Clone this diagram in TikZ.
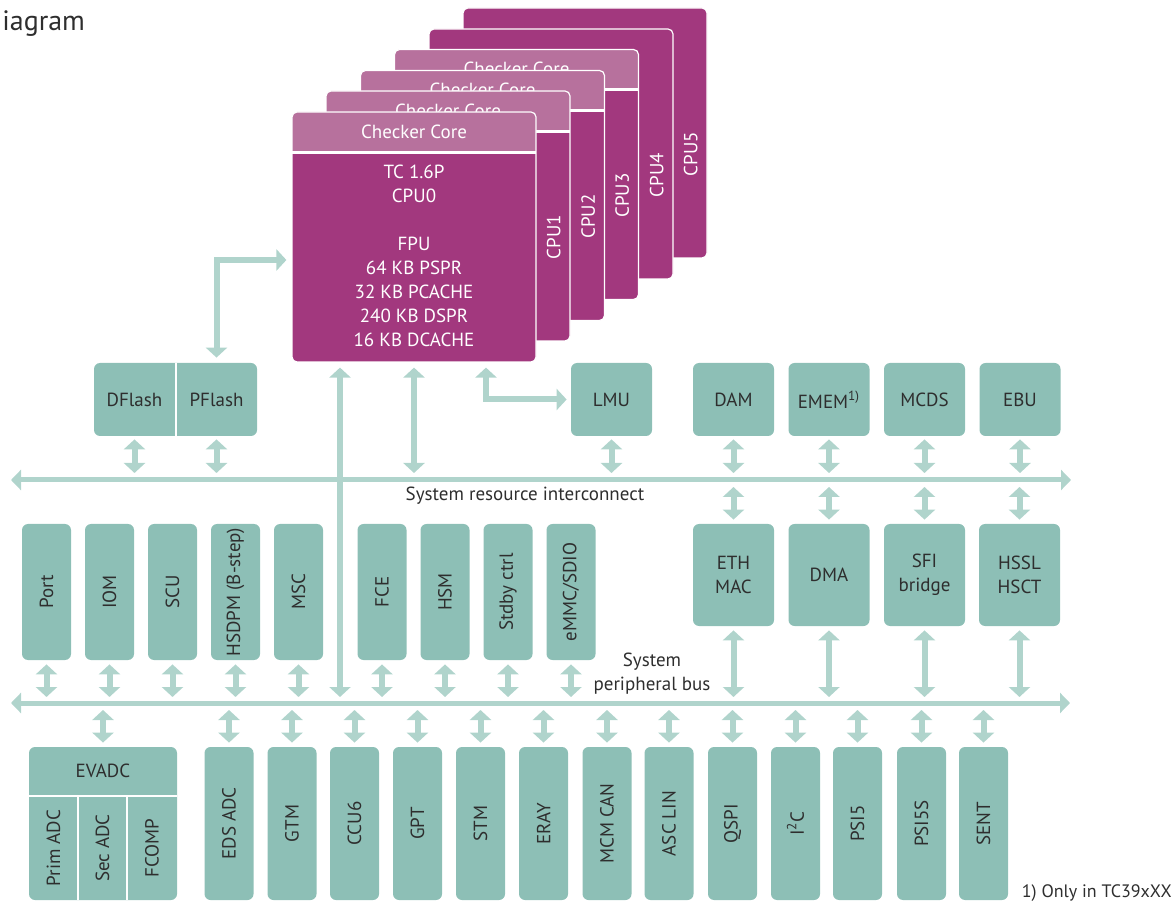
\documentclass[tikz,border=0pt]{standalone}
\usepackage{fontspec}
\setmainfont{PT Sans}
\usetikzlibrary{arrows.meta}

\definecolor{cpubody}{HTML}{A2387E}
\definecolor{cpuhead}{HTML}{B7719D}
\definecolor{boxgreen}{HTML}{8DBFB6}
\definecolor{busgreen}{HTML}{B0D4CC}
\definecolor{txtgray}{HTML}{2E2E2E}

\begin{document}
\begin{tikzpicture}[x=0.5pt,y=-0.5pt,
  lbl/.style={font=\fontsize{9.5}{12}\selectfont, text=txtgray, align=center, inner sep=0pt},
  wlbl/.style={lbl, text=white},
  gbox/.style={lbl, fill=boxgreen, rounded corners=3pt},
  topbox/.style={gbox, minimum width=40.5pt, minimum height=36.5pt},
  dmabox/.style={gbox, minimum width=40.5pt, minimum height=51pt},
  midbox/.style={gbox, minimum width=24.5pt, minimum height=68pt},
  lowbox/.style={gbox, minimum width=24.5pt, minimum height=76.5pt},
  cpu/.style={fill=cpubody, draw=white, line width=0.6pt, rounded corners=2.5pt,
    minimum width=122pt, minimum height=125pt, inner sep=0pt},
  cpuc/.style={cpu, path picture={
    \fill[cpuhead, sharp corners] (path picture bounding box.north west) rectangle ([yshift=-19.5pt]path picture bounding box.north east);
    \fill[white, sharp corners] ([yshift=-19.5pt]path picture bounding box.north west) rectangle ([yshift=-21pt]path picture bounding box.north east);}},
  bus/.style={draw=busgreen, line width=2.5pt, >={Triangle[width=10pt,length=5pt]}, <->},
  sarrow/.style={draw=busgreen, line width=3pt, >={Triangle[width=10.5pt,length=5pt]}, <->}]

\useasboundingbox (0,0) rectangle (1173,903);
\node[anchor=base west, font=\fontsize{14}{17}\selectfont, text=txtgray, inner sep=0pt] (title) at (2,31) {iagram};

\node[cpu] (cpu5) at (585,133) {};
\node[wlbl] (l5) at ([xshift=-8.5pt,yshift=-10.5pt]cpu5.east) {\rotatebox{90}{CPU5}};
\node[cpu] (cpu4) at (551,154) {};
\node[wlbl] (l4) at ([xshift=-8.5pt,yshift=-10.5pt]cpu4.east) {\rotatebox{90}{CPU4}};
\node[cpuc] (cpu3) at (516.5,174.5) {};
\node[wlbl] (chk3) at ([yshift=-10pt]cpu3.north) {Checker Core};
\node[wlbl] (l3) at ([xshift=-8.5pt,yshift=-10.5pt]cpu3.east) {\rotatebox{90}{CPU3}};
\node[cpuc] (cpu2) at (482.5,195.5) {};
\node[wlbl] (chk2) at ([yshift=-10pt]cpu2.north) {Checker Core};
\node[wlbl] (l2) at ([xshift=-8.5pt,yshift=-10.5pt]cpu2.east) {\rotatebox{90}{CPU2}};
\node[cpuc] (cpu1) at (448,216) {};
\node[wlbl] (chk1) at ([yshift=-10pt]cpu1.north) {Checker Core};
\node[wlbl] (l1) at ([xshift=-8.5pt,yshift=-10.5pt]cpu1.east) {\rotatebox{90}{CPU1}};
\node[cpuc] (cpu0) at (414,237) {};
\node[wlbl] (chk0) at ([yshift=-10pt]cpu0.north) {Checker Core};
\node[wlbl] (cpu0t) at (414,256) {TC 1.6P\\CPU0\\[12pt]FPU\\64 KB PSPR\\32 KB PCACHE\\240 KB DSPR\\16 KB DCACHE};

\node[topbox, minimum width=81.5pt] (flash) at (175.5,399.5) {};
\draw[white, line width=1pt] (flash.north) -- (flash.south);
\node[lbl] (dflash) at (134.5,399.5) {DFlash};
\node[lbl] (pflash) at (216.5,399.5) {PFlash};
\node[topbox] (lmu) at (611.5,399.5) {LMU};
\node[topbox] (dam) at (733.5,399.5) {DAM};
\node[topbox] (emem) at (829,399.5) {EMEM\textsuperscript{1)}};
\node[topbox] (mcds) at (924.5,399.5) {MCDS};
\node[topbox] (ebu) at (1020,399.5) {EBU};

\coordinate (sriw) at (11,480);
\coordinate (srie) at (1071,480);
\draw[bus] (sriw) -- (srie);
\node[lbl] (srilbl) at (525,496) {System resource interconnect};

\node[midbox] (port) at (46.5,592) {\rotatebox{90}{Port}};
\node[midbox] (iom) at (109.5,592) {\rotatebox{90}{IOM}};
\node[midbox] (scu) at (172.5,592) {\rotatebox{90}{SCU}};
\node[midbox] (hsdpm) at (235.5,592) {\rotatebox{90}{HSDPM (B-step)}};
\node[midbox] (msc) at (298.5,592) {\rotatebox{90}{MSC}};
\node[midbox] (fce) at (382,592) {\rotatebox{90}{FCE}};
\node[midbox] (hsm) at (445,592) {\rotatebox{90}{HSM}};
\node[midbox] (stdby) at (508,592) {\rotatebox{90}{Stdby ctrl}};
\node[midbox] (emmc) at (571,592) {\rotatebox{90}{eMMC/SDIO}};
\node[dmabox] (eth) at (733.5,575) {ETH\\MAC};
\node[dmabox] (dma) at (829,575) {DMA};
\node[dmabox] (sfi) at (924.5,575) {SFI\\bridge};
\node[dmabox] (hssl) at (1019.5,575) {HSSL\\HSCT};

\coordinate (spbw) at (11,703);
\coordinate (spbe) at (1070,703);
\draw[bus] (spbw) -- (spbe);
\node[lbl] (spblbl) at (652,674) {System\\peripheral bus};

\node[gbox, minimum width=74pt, minimum height=76.5pt] (evadc) at (103,823.5) {};
\coordinate (evs) at (103,796);
\coordinate (evd1) at (78,796);
\coordinate (evd2) at (127,796);
\draw[white, line width=1pt] (evadc.west |- evs) -- (evadc.east |- evs);
\draw[white, line width=1pt] (evd1) -- (evd1 |- evadc.south);
\draw[white, line width=1pt] (evd2) -- (evd2 |- evadc.south);
\node[lbl] (evadct) at (103,771) {EVADC};
\node[lbl] (prim) at (53.5,848) {\rotatebox{90}{Prim ADC}};
\node[lbl] (sec) at (102.5,848) {\rotatebox{90}{Sec ADC}};
\node[lbl] (fcomp) at (152,848) {\rotatebox{90}{FCOMP}};
\node[lowbox] (edsadc) at (229,823.5) {\rotatebox{90}{EDS ADC}};
\node[lowbox] (gtm) at (292,823.5) {\rotatebox{90}{GTM}};
\node[lowbox] (ccu6) at (354.5,823.5) {\rotatebox{90}{CCU6}};
\node[lowbox] (gpt) at (417.5,823.5) {\rotatebox{90}{GPT}};
\node[lowbox] (stm) at (480.5,823.5) {\rotatebox{90}{STM}};
\node[lowbox] (eray) at (543.5,823.5) {\rotatebox{90}{ERAY}};
\node[lowbox] (mcmcan) at (607,823.5) {\rotatebox{90}{MCM CAN}};
\node[lowbox] (asclin) at (669,823.5) {\rotatebox{90}{ASC LIN}};
\node[lowbox] (qspi) at (732.5,823.5) {\rotatebox{90}{QSPI}};
\node[lowbox] (iic) at (795.5,823.5) {\rotatebox{90}{I\textsuperscript{2}C}};
\node[lowbox] (psi5) at (857.5,823.5) {\rotatebox{90}{PSI5}};
\node[lowbox] (psi5s) at (921.5,823.5) {\rotatebox{90}{PSI5S}};
\node[lowbox] (sent) at (983.5,823.5) {\rotatebox{90}{SENT}};

\node[lbl, anchor=east, font=\fontsize{9}{11}\selectfont] (note) at (1172,893) {1) Only in TC39xXX};

\draw[sarrow, shorten <=2.5pt, shorten >=3.5pt] (cpu0.south) -- (cpu0 |- sriw);
\coordinate (spx) at (340,703);
\draw[sarrow, shorten <=2.5pt, shorten >=3pt] (spx |- cpu0.south) -- (spx);
\coordinate (lmuk) at (486,400);
\draw[sarrow, shorten <=2.5pt, shorten >=2pt] (lmuk |- cpu0.south) |- (lmu.west);
\coordinate (flk) at (216.5,260);
\draw[sarrow, shorten <=2.5pt, shorten >=2.5pt] (pflash |- flash.north) |- (cpu0.west |- flk);

\draw[sarrow, shorten <=1.5pt, shorten >=3.5pt] (dflash |- flash.south) -- (dflash |- sriw);
\draw[sarrow, shorten <=1.5pt, shorten >=3.5pt] (pflash |- flash.south) -- (pflash |- sriw);
\draw[sarrow, shorten <=1.5pt, shorten >=3.5pt] (lmu.south) -- (lmu |- sriw);
\draw[sarrow, shorten <=1.5pt, shorten >=3.5pt] (dam.south) -- (dam |- sriw);
\draw[sarrow, shorten <=1.5pt, shorten >=3.5pt] (emem.south) -- (emem |- sriw);
\draw[sarrow, shorten <=1.5pt, shorten >=3.5pt] (mcds.south) -- (mcds |- sriw);
\draw[sarrow, shorten <=1.5pt, shorten >=3.5pt] (ebu.south) -- (ebu |- sriw);

\draw[sarrow, shorten <=3.5pt, shorten >=2pt] (eth |- sriw) -- (eth.north);
\draw[sarrow, shorten <=3.5pt, shorten >=2pt] (dma |- sriw) -- (dma.north);
\draw[sarrow, shorten <=3.5pt, shorten >=2pt] (sfi |- sriw) -- (sfi.north);
\draw[sarrow, shorten <=3.5pt, shorten >=2pt] (hssl |- sriw) -- (hssl.north);

\draw[sarrow, shorten <=2pt, shorten >=3pt] (port.south) -- (port |- spbw);
\draw[sarrow, shorten <=2pt, shorten >=3pt] (iom.south) -- (iom |- spbw);
\draw[sarrow, shorten <=2pt, shorten >=3pt] (scu.south) -- (scu |- spbw);
\draw[sarrow, shorten <=2pt, shorten >=3pt] (hsdpm.south) -- (hsdpm |- spbw);
\draw[sarrow, shorten <=2pt, shorten >=3pt] (msc.south) -- (msc |- spbw);
\draw[sarrow, shorten <=2pt, shorten >=3pt] (fce.south) -- (fce |- spbw);
\draw[sarrow, shorten <=2pt, shorten >=3pt] (hsm.south) -- (hsm |- spbw);
\draw[sarrow, shorten <=2pt, shorten >=3pt] (stdby.south) -- (stdby |- spbw);
\draw[sarrow, shorten <=2pt, shorten >=3pt] (emmc.south) -- (emmc |- spbw);
\draw[sarrow, shorten <=2pt, shorten >=3pt] (eth.south) -- (eth |- spbw);
\draw[sarrow, shorten <=2pt, shorten >=3pt] (dma.south) -- (dma |- spbw);
\draw[sarrow, shorten <=2pt, shorten >=3pt] (sfi.south) -- (sfi |- spbw);
\draw[sarrow, shorten <=2pt, shorten >=3pt] (hssl.south) -- (hssl |- spbw);

\draw[sarrow, shorten <=3.5pt, shorten >=2pt] (evadc |- spbw) -- (evadc.north);
\draw[sarrow, shorten <=3.5pt, shorten >=2pt] (edsadc |- spbw) -- (edsadc.north);
\draw[sarrow, shorten <=3.5pt, shorten >=2pt] (gtm |- spbw) -- (gtm.north);
\draw[sarrow, shorten <=3.5pt, shorten >=2pt] (ccu6 |- spbw) -- (ccu6.north);
\draw[sarrow, shorten <=3.5pt, shorten >=2pt] (gpt |- spbw) -- (gpt.north);
\draw[sarrow, shorten <=3.5pt, shorten >=2pt] (stm |- spbw) -- (stm.north);
\draw[sarrow, shorten <=3.5pt, shorten >=2pt] (eray |- spbw) -- (eray.north);
\draw[sarrow, shorten <=3.5pt, shorten >=2pt] (mcmcan |- spbw) -- (mcmcan.north);
\draw[sarrow, shorten <=3.5pt, shorten >=2pt] (asclin |- spbw) -- (asclin.north);
\draw[sarrow, shorten <=3.5pt, shorten >=2pt] (qspi |- spbw) -- (qspi.north);
\draw[sarrow, shorten <=3.5pt, shorten >=2pt] (iic |- spbw) -- (iic.north);
\draw[sarrow, shorten <=3.5pt, shorten >=2pt] (psi5 |- spbw) -- (psi5.north);
\draw[sarrow, shorten <=3.5pt, shorten >=2pt] (psi5s |- spbw) -- (psi5s.north);
\draw[sarrow, shorten <=3.5pt, shorten >=2pt] (sent |- spbw) -- (sent.north);
\end{tikzpicture}
\end{document}
